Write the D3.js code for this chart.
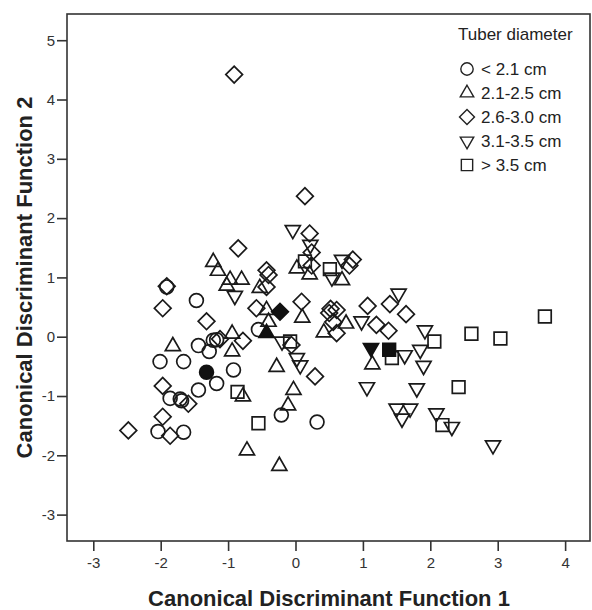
<!DOCTYPE html>
<html>
<head>
<meta charset="utf-8">
<script src="https://cdn.jsdelivr.net/npm/d3@7"></script>
<style>
  body { margin: 0; background: #fff; }
  text { font-family: Arial, "Liberation Sans", sans-serif; }
</style>
</head>
<body>
<div id="chart"></div>
<script>
var width = 592;
var height = 610;

// group labels for legend
var groups = ["< 2.1 cm", "2.1-2.5 cm", "2.6-3.0 cm", "3.1-3.5 cm", "> 3.5 cm"];
var xTicks = [-3, -2, -1, 0, 1, 2, 3, 4];
var yTicks = [-3, -2, -1, 0, 1, 2, 3, 4, 5];

// cases, [function1, function2]
var lt21 = [[-1.91,0.84],[-1.47,0.61],[-2.01,-0.42],[-1.66,-0.42],[-1.44,-0.15],[-1.28,-0.25],
  [-1.22,-0.06],[-1.17,-0.05],[-0.92,-0.56],[-1.17,-0.79],[-1.44,-0.90],[-1.86,-1.04],
  [-1.71,-1.05],[-1.69,-1.08],[-2.04,-1.60],[-1.66,-1.61],[-0.21,-1.32],[0.32,-1.44],[-0.55,0.12]];
var d2125 = [[-1.22,1.26],[-1.15,1.11],[-0.97,0.96],[-1.02,0.86],[-0.80,0.96],[-0.53,0.82],
  [-1.82,-0.16],[-0.94,0.05],[-0.94,-0.25],[-0.28,-0.51],[-0.03,-0.90],[-0.11,-1.16],
  [-0.78,-1.01],[-0.72,-1.92],[-0.24,-2.18],[-0.40,0.25],[-0.43,0.45],[0.02,1.15],
  [0.21,1.05],[0.69,0.95],[0.10,0.32],[0.42,0.07],[0.75,0.22],[1.14,-0.47]];
var d2630 = [[-0.91,4.42],[-0.85,1.49],[-0.43,1.12],[-0.40,1.04],[-0.43,0.84],[-1.91,0.85],
  [0.14,2.37],[0.21,1.74],[0.24,1.42],[0.24,1.20],[0.85,1.30],[0.80,1.20],[0.09,0.59],
  [0.52,0.47],[0.61,0.45],[1.07,0.52],[-0.58,0.48],[-1.97,0.48],[-1.32,0.26],[-1.12,-0.04],
  [-0.78,-0.07],[-1.97,-0.83],[-1.97,-1.35],[-1.86,-1.67],[-2.48,-1.58],[-1.59,-1.13],
  [0.56,0.25],[0.61,0.06],[1.40,0.55],[1.64,0.38],[1.20,0.20],[1.38,0.10],[0.29,-0.67],
  [-0.06,-0.14],[0.50,0.40]];
var d3135 = [[-0.04,1.80],[-0.90,0.69],[0.22,1.55],[0.54,1.00],[0.69,1.30],[-0.20,-0.08],
  [0.02,-0.36],[0.07,-0.48],[0.98,0.26],[1.06,-0.85],[1.53,0.73],[1.92,0.11],[1.85,-0.22],
  [1.62,-0.31],[1.90,-0.49],[1.80,-0.87],[1.50,-1.21],[1.70,-1.21],[1.58,-1.38],[2.09,-1.29],
  [2.32,-1.52],[2.93,-1.83]];
var gt35 = [[-0.86,-0.93],[-0.55,-1.46],[-0.08,-0.08],[0.14,1.27],[0.51,1.14],[1.43,-0.36],
  [2.06,-0.08],[2.61,0.05],[3.04,-0.03],[3.70,0.34],[2.42,-0.85],[2.18,-1.49]];
// group centroids (filled)
var centroids = [[-1.32,-0.60],[-0.43,0.06],[-0.23,0.42],[1.12,-0.19],[1.39,-0.22]];

var cases = [lt21, d2125, d2630, d3135, gt35];

var x = d3.scaleLinear().domain([-3.39, 4.384]).range([67, 591]);
var y = d3.scaleLinear().domain([-3.445, 5.442]).range([541, 14]);

// marker shapes: [symbol type, size, rotation]
var shapes = [
  [d3.symbolCircle, 150, 0],
  [d3.symbolTriangle, 98, 0],
  [d3.symbolSquare, 140, 45],
  [d3.symbolTriangle, 98, 180],
  [d3.symbolSquare, 160, 0]
];

function marker(i, scale) {
  return d3.symbol().type(shapes[i][0]).size(shapes[i][1] * (scale || 1))();
}

var svg = d3.select("#chart").append("svg")
    .attr("width", width)
    .attr("height", height)
    .attr("viewBox", [0, 0, width, height]);

var xAxis = g => g
    .attr("transform", `translate(0,${541})`)
    .call(d3.axisBottom(x).tickValues(xTicks).tickFormat(d => String(d)).tickSize(10).tickPadding(6).tickSizeOuter(0))
    .call(g => g.select(".domain").remove())
    .call(g => g.selectAll("line").attr("stroke", "#333").attr("stroke-width", 1.6))
    .call(g => g.selectAll("text").attr("fill", "#333").attr("font-size", 15));

var yAxis = g => g
    .attr("transform", `translate(${67},0)`)
    .call(d3.axisLeft(y).tickValues(yTicks).tickFormat(d => String(d)).tickSize(10).tickPadding(2).tickSizeOuter(0))
    .call(g => g.select(".domain").remove())
    .call(g => g.selectAll("line").attr("stroke", "#333").attr("stroke-width", 1.6))
    .call(g => g.selectAll("text").attr("fill", "#333").attr("font-size", 15));

svg.append("g").call(xAxis);
svg.append("g").call(yAxis);

// frame
svg.append("rect")
    .attr("x", x.range()[0])
    .attr("y", y.range()[1])
    .attr("width", x.range()[1] - x.range()[0] - 1)
    .attr("height", y.range()[0] - y.range()[1])
    .attr("fill", "none")
    .attr("stroke", "#333")
    .attr("stroke-width", 1.6);

// points
cases.forEach((pts, i) => {
  svg.append("g")
    .selectAll("path")
    .data(pts)
    .join("path")
      .attr("d", marker(i))
      .attr("transform", d => `translate(${x(d[0])},${y(d[1])}) rotate(${shapes[i][2]})`)
      .attr("fill", "none")
      .attr("stroke", "#1a1a1a")
      .attr("stroke-width", 1.7);
});

svg.append("g")
  .selectAll("path")
  .data(centroids)
  .join("path")
    .attr("d", (d, i) => marker(i))
    .attr("transform", (d, i) => `translate(${x(d[0])},${y(d[1])}) rotate(${shapes[i][2]})`)
    .attr("fill", "#111")
    .attr("stroke", "#111")
    .attr("stroke-width", 1.7);

// legend
var legend = svg.append("g").attr("transform", "translate(458,0)");
legend.append("text")
    .attr("x", 0)
    .attr("y", 40)
    .attr("font-size", 17)
    .attr("fill", "#222")
    .text("Tuber diameter");

var item = legend.selectAll("g.item")
  .data(groups)
  .join("g")
    .attr("class", "item")
    .attr("transform", (d, i) => `translate(0,${69 + i * 24})`);

item.append("path")
    .attr("d", (d, i) => marker(i, 0.8))
    .attr("transform", (d, i) => `translate(9,0) rotate(${shapes[i][2]})`)
    .attr("fill", "none")
    .attr("stroke", "#222")
    .attr("stroke-width", 1.4);

item.append("text")
    .attr("x", 23)
    .attr("y", 6)
    .attr("font-size", 17)
    .attr("fill", "#222")
    .text(d => d);

// axis titles
svg.append("text")
    .attr("x", (x.range()[0] + x.range()[1]) / 2)
    .attr("y", 606)
    .attr("text-anchor", "middle")
    .attr("font-size", 22)
    .attr("font-weight", "bold")
    .attr("fill", "#222")
    .text("Canonical Discriminant Function 1");

svg.append("text")
    .attr("transform", `translate(32,${(y.range()[0] + y.range()[1]) / 2}) rotate(-90)`)
    .attr("text-anchor", "middle")
    .attr("font-size", 22)
    .attr("font-weight", "bold")
    .attr("fill", "#222")
    .text("Canonical Discriminant Function 2");
</script>
</body>
</html>
